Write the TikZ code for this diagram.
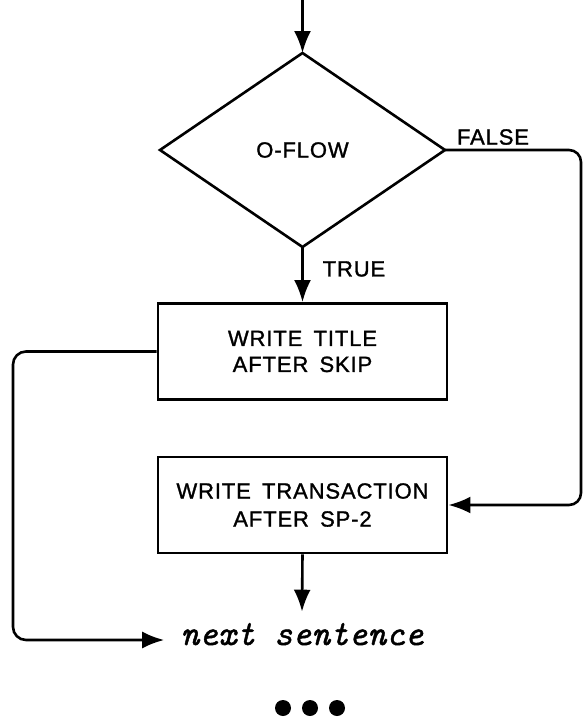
\documentclass[tikz,border=0pt]{standalone}
\usepackage{fontspec}
\setmainfont{Liberation Sans}[LetterSpace=4, WordSpace=1.6, FakeBold=1.3]
\newfontfamily\exitfont{lmmono10-italic}[Extension=.otf, FakeBold=1.2]
\usetikzlibrary{arrows.meta,shapes.geometric}
\begin{document}
\begin{tikzpicture}[x=1pt,y=-1pt,
  line width=2.6pt,
  arr/.style={-{Latex[length=22pt,width=17pt]}},
  lbl/.style={font=\fontsize{22}{26}\selectfont, inner sep=0pt},
  procbox/.style={draw, line width=2.8pt, minimum width=289pt, minimum height=96pt,
    inner sep=0pt, align=center, font=\fontsize{22}{26}\selectfont},
  decision/.style={draw, diamond, minimum width=285pt, minimum height=194pt,
    inner sep=0pt, outer sep=0pt, font=\fontsize{22}{26}\selectfont},
  dot/.style={circle, fill, inner sep=0pt, minimum size=16pt}]
  \useasboundingbox (0,0) rectangle (582,718);

  % decision and the two processing steps
  \node[decision] (dia) at (302.5,150) {O-FLOW};
  \node[procbox] (t1) at (302.5,351.5) {WRITE TITLE\\AFTER SKIP};
  \node[procbox, font=\fontsize{22}{28}\selectfont] (t2) at (302.5,505)
    {WRITE TRANSACTION\\AFTER SP-2};

  % exit point
  \node[anchor=base, inner xsep=15pt, inner ysep=17pt, text height=15pt, text depth=5pt,
    font=\exitfont\fontsize{35.6}{40}\selectfont] (ns) at (302,645) {next sentence};

  % branch labels
  \node[lbl] (lf) at (493,137) {FALSE};
  \node[lbl] (lt) at (354,269) {TRUE};

  % free ends and routing columns
  \coordinate (top) at (302.5,0);
  \coordinate (rr) at (581,0);
  \coordinate (ll) at (13,0);

  % connectors
  \draw[arr] (top) -- (dia.north);
  \draw[arr] (dia.south) -- (t1.north);
  \draw[arr, rounded corners=12pt] (dia.east) -| (rr |- t2.east) -- (t2.east);
  \draw[arr, rounded corners=13pt] (t1.west) -| (ll |- ns.west) -- (ns.west);
  \draw[arr] (t2.south) -- (ns.north);

  % continuation marks
  \node[dot] (d1) at (283,708) {};
  \node[dot] (d2) at (310,708) {};
  \node[dot] (d3) at (337,708) {};
\end{tikzpicture}
\end{document}
